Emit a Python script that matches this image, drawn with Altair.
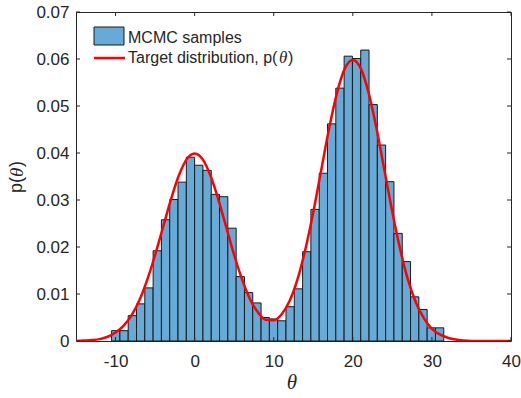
import altair as alt
import pandas as pd

# ---- data ----
bin_left = [-10.5, -9.45, -8.4, -7.35, -6.3, -5.25, -4.2, -3.15, -2.1, -1.05,
            0.0, 1.05, 2.1, 3.15, 4.2, 5.25, 6.3, 7.35, 8.4, 9.45,
            10.5, 11.55, 12.6, 13.65, 14.7, 15.75, 16.8, 17.85, 18.9, 19.95,
            21.0, 22.05, 23.1, 24.15, 25.2, 26.25, 27.3, 28.35, 29.4, 30.45]
bin_width = 1.05
bin_height = [0.0022, 0.0022, 0.0054, 0.0079, 0.0113, 0.0192, 0.0258, 0.0301, 0.0338, 0.0391,
              0.0374, 0.0363, 0.0312, 0.0307, 0.0240, 0.0137, 0.0103, 0.0081, 0.0050, 0.0047,
              0.0043, 0.0073, 0.0111, 0.0190, 0.0280, 0.0357, 0.0462, 0.0538, 0.0606, 0.0601,
              0.0619, 0.0503, 0.0417, 0.0339, 0.0229, 0.0169, 0.0094, 0.0067, 0.0028, 0.0028]

curve_theta = list(range(-15, 41))
curve_p = [0.0000, 0.0001, 0.0002, 0.0004, 0.0009, 0.0018, 0.0032, 0.0054, 0.0086, 0.0130,
           0.0183, 0.0242, 0.0301, 0.0352, 0.0387, 0.0399, 0.0387, 0.0352, 0.0301, 0.0242,
           0.0183, 0.0131, 0.0089, 0.0061, 0.0045, 0.0044, 0.0057, 0.0085, 0.0131, 0.0195,
           0.0274, 0.0363, 0.0452, 0.0528, 0.0580, 0.0598, 0.0580, 0.0528, 0.0452, 0.0363,
           0.0274, 0.0194, 0.0129, 0.0081, 0.0048, 0.0026, 0.0014, 0.0007, 0.0003, 0.0001,
           0.0000, 0.0000, 0.0000, 0.0000, 0.0000, 0.0000]

x_ticks = [-10, 0, 10, 20, 30, 40]
y_ticks = [0, 0.01, 0.02, 0.03, 0.04, 0.05, 0.06, 0.07]

W, H = 435, 329
AX = "#262626"
FONT = "Liberation Sans"

hist = pd.DataFrame({"lo": bin_left, "p": bin_height})
hist["hi"] = hist["lo"] + bin_width
curve = pd.DataFrame({"theta": curve_theta, "p": curve_p})
xt = pd.DataFrame({"t": x_ticks})
yt = pd.DataFrame({"v": y_ticks})

xscale = alt.Scale(domain=[-15, 40], nice=False, zero=False)
yscale = alt.Scale(domain=[0, 0.07], nice=False)

bars = alt.Chart(hist).mark_rect(
    fill="#66AAD7", stroke="#1a1a1a", strokeWidth=1
).encode(
    x=alt.X("lo:Q", scale=xscale,
            axis=alt.Axis(values=x_ticks, title=None, domain=False, ticks=False, grid=False,
                          labelFont=FONT, labelFontSize=17, labelColor=AX, labelPadding=12,
                          labelFlush=False,
                          labelExpr="datum.value < 0 ? '-' + format(-datum.value, 'd') : format(datum.value, 'd')")),
    x2="hi:Q",
    y=alt.Y("p:Q", scale=yscale,
            axis=alt.Axis(values=y_ticks, title=None, domain=False, ticks=False, grid=False,
                          labelFont=FONT, labelFontSize=17, labelColor=AX, labelPadding=7,
                          labelExpr="datum.value == 0 ? '0' : format(datum.value, '.2f')")),
    y2=alt.datum(0),
)

line = alt.Chart(curve).mark_line(
    color="#FF0000", strokeWidth=2.5, interpolate="monotone", clip=True
).encode(x=alt.X("theta:Q", scale=xscale), y=alt.Y("p:Q", scale=yscale))

tick_b = alt.Chart(xt).mark_rule(color=AX, strokeWidth=1).encode(
    x=alt.X("t:Q", scale=xscale), y=alt.value(H), y2=alt.value(H - 4))
tick_t = alt.Chart(xt).mark_rule(color=AX, strokeWidth=1).encode(
    x=alt.X("t:Q", scale=xscale), y=alt.value(0), y2=alt.value(4))
tick_l = alt.Chart(yt).mark_rule(color=AX, strokeWidth=1).encode(
    y=alt.Y("v:Q", scale=yscale), x=alt.value(0), x2=alt.value(4))
tick_r = alt.Chart(yt).mark_rule(color=AX, strokeWidth=1).encode(
    y=alt.Y("v:Q", scale=yscale), x=alt.value(W - 4), x2=alt.value(W))

one = pd.DataFrame({"k": [0]})

leg_patch = alt.Chart(one).mark_rect(fill="#66AAD7", stroke="#1a1a1a", strokeWidth=1).encode(
    x=alt.value(18), x2=alt.value(48), y=alt.value(15), y2=alt.value(33))
leg_line = alt.Chart(one).mark_rule(color="#FF0000", strokeWidth=2.5).encode(
    x=alt.value(18), x2=alt.value(49), y=alt.value(46))


def label(txt, x, y, size=16, font=FONT, style="normal", angle=0, align="left"):
    return alt.Chart(pd.DataFrame({"s": [txt]})).mark_text(
        font=font, fontSize=size, fontStyle=style, color=AX, align=align,
        baseline="middle", angle=angle
    ).encode(x=alt.value(x), y=alt.value(y), text="s:N")


leg_t1 = label("MCMC samples", 52, 26)
leg_t2a = label("Target distribution, p(", 52, 46)
leg_t2b = label("θ", 203, 46, font="Liberation Serif", style="italic", size=17)
leg_t2c = label(")", 212, 46)

xtitle = label("θ", 216, 371, size=21, font="Liberation Serif", style="italic", align="center")
ytitle_a = label("p(", -59, 181, size=18, angle=270)
ytitle_b = label("θ", -59, 165, size=19, font="Liberation Serif", style="italic", angle=270)
ytitle_c = label(")", -59, 155, size=18, angle=270)

chart = alt.layer(
    bars, line, tick_b, tick_t, tick_l, tick_r,
    leg_patch, leg_line, leg_t1, leg_t2a, leg_t2b, leg_t2c,
    xtitle, ytitle_a, ytitle_b, ytitle_c,
).properties(
    width=W, height=H,
    autosize=alt.AutoSizeParams(type="none"),
    padding={"left": 76, "top": 12, "right": 10, "bottom": 57},
    background="white",
).configure_view(stroke=AX, strokeWidth=1)

chart.save("out.html", embed_options={"renderer": "svg", "actions": False})
